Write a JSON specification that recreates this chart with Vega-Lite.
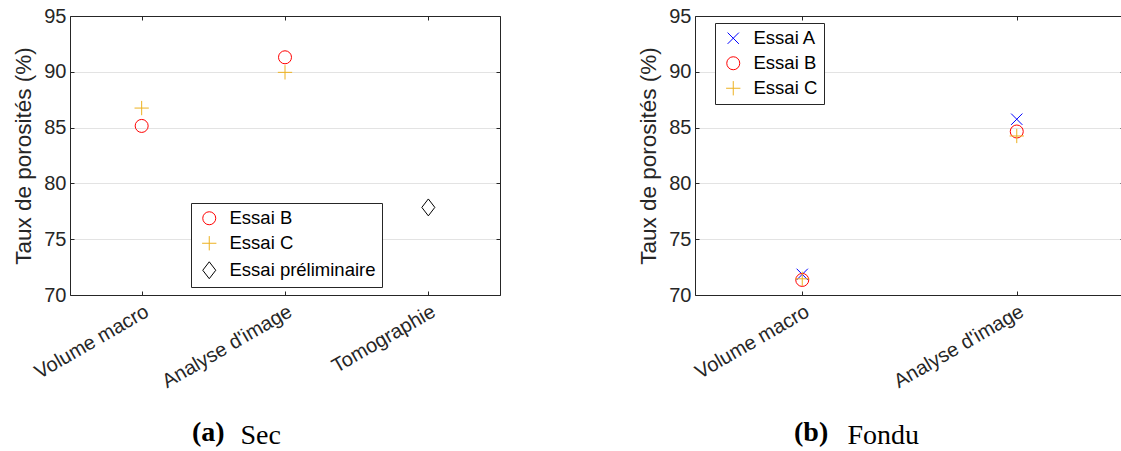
{
  "$schema": "https://vega.github.io/schema/vega-lite/v6.json",
  "padding": {"left": 12, "top": 6, "right": 0, "bottom": 0},
  "background": "white",
  "datasets": {
    "sec": [
      {"methode": "Volume macro", "essai": "Essai B", "taux": 85.15},
      {"methode": "Volume macro", "essai": "Essai C", "taux": 86.75},
      {"methode": "Analyse d'image", "essai": "Essai B", "taux": 91.3},
      {"methode": "Analyse d'image", "essai": "Essai C", "taux": 89.95},
      {"methode": "Tomographie", "essai": "Essai préliminaire", "taux": 77.85}
    ],
    "fondu": [
      {"methode": "Volume macro", "essai": "Essai A", "taux": 71.85},
      {"methode": "Volume macro", "essai": "Essai B", "taux": 71.35},
      {"methode": "Volume macro", "essai": "Essai C", "taux": 71.45},
      {"methode": "Analyse d'image", "essai": "Essai A", "taux": 85.75},
      {"methode": "Analyse d'image", "essai": "Essai B", "taux": 84.65},
      {"methode": "Analyse d'image", "essai": "Essai C", "taux": 84.25}
    ]
  },
  "config": {
    "view": {"stroke": null},
    "axis": {
      "domain": true,
      "domainColor": "#262626",
      "domainWidth": 1,
      "gridColor": "#e3e3e3",
      "gridWidth": 1,
      "tickColor": "#262626",
      "tickSize": -4,
      "labelColor": "#262626",
      "labelFont": "Liberation Sans",
      "labelFontSize": 20,
      "titleFont": "Liberation Sans",
      "titleFontSize": 22.5,
      "titleFontWeight": "normal",
      "titleColor": "#262626"
    },
    "legend": {
      "orient": "none",
      "strokeColor": "#262626",
      "fillColor": "white",
      "padding": 6,
      "labelFont": "Liberation Sans",
      "labelFontSize": 18.5,
      "labelColor": "black",
      "labelOffset": 11,
      "symbolSize": 169,
      "symbolStrokeWidth": 1,
      "symbolOffset": 3,
      "rowPadding": 6,
      "title": null
    },
    "title": {"font": "Liberation Serif", "fontSize": 28, "color": "black"}
  },
  "hconcat": [
    {
      "width": 430,
      "height": 279,
      "data": {"name": "sec"},
      "title": {"text": "(a)", "orient": "bottom", "anchor": "start", "frame": "group", "dx": 122, "offset": -30, "fontWeight": "bold"},
      "layer": [
        {
          "mark": {"type": "point", "filled": false, "strokeWidth": 1, "opacity": 1, "size": 169},
          "encoding": {
            "x": {
              "field": "methode", "type": "nominal",
              "scale": {"type": "point", "domain": ["Volume macro", "Analyse d'image", "Tomographie"], "padding": 0.5},
              "axis": {"labelAngle": -30, "labelPadding": 10, "title": "Sec", "titleFont": "Liberation Serif", "titleFontSize": 28, "titleColor": "black", "titleX": 170, "titleY": 148, "titleAlign": "left", "titleBaseline": "alphabetic"}
            },
            "y": {
              "field": "taux", "type": "quantitative",
              "scale": {"domain": [70, 95], "nice": false, "zero": false},
              "axis": {"values": [70, 75, 80, 85, 90, 95], "labelPadding": 8, "title": "Taux de porosités (%)", "titlePadding": 8}
            },
            "color": {
              "field": "essai", "type": "nominal",
              "scale": {"domain": ["Essai B", "Essai C", "Essai préliminaire"], "range": ["#ff0000", "#edb120", "#000000"]},
              "legend": {"legendX": 121, "legendY": 187}
            },
            "shape": {
              "field": "essai", "type": "nominal",
              "scale": {"domain": ["Essai B", "Essai C", "Essai préliminaire"], "range": ["circle", "M-1.1,0L1.1,0M0,-1.1L0,1.1", "M0,-1.3L1,0L0,1.3L-1,0Z"]},
              "legend": {"legendX": 121, "legendY": 187}
            }
          }
        },
        {
          "mark": {"type": "point", "opacity": 0},
          "encoding": {
            "x": {"field": "methode", "type": "nominal", "axis": {"orient": "top", "labels": false, "title": null, "grid": false, "zindex": 1}},
            "y": {"field": "taux", "type": "quantitative", "axis": {"orient": "right", "values": [70, 75, 80, 85, 90, 95], "labels": false, "title": null, "grid": false, "zindex": 1}}
          }
        }
      ],
      "resolve": {"axis": {"x": "independent", "y": "independent"}}
    },
    {
      "width": 429,
      "height": 279,
      "data": {"name": "fondu"},
      "title": {"text": "(b)", "orient": "bottom", "anchor": "start", "frame": "group", "dx": 99, "offset": -30, "fontWeight": "bold"},
      "layer": [
        {
          "mark": {"type": "point", "filled": false, "strokeWidth": 1, "opacity": 1, "size": 169},
          "encoding": {
            "x": {
              "field": "methode", "type": "nominal",
              "scale": {"type": "point", "domain": ["Volume macro", "Analyse d'image"], "padding": 0.5},
              "axis": {"labelAngle": -30, "labelPadding": 10, "title": "Fondu", "titleFont": "Liberation Serif", "titleFontSize": 28, "titleColor": "black", "titleX": 152, "titleY": 148, "titleAlign": "left", "titleBaseline": "alphabetic"}
            },
            "y": {
              "field": "taux", "type": "quantitative",
              "scale": {"domain": [70, 95], "nice": false, "zero": false},
              "axis": {"values": [70, 75, 80, 85, 90, 95], "labelPadding": 8, "title": "Taux de porosités (%)", "titlePadding": 8}
            },
            "color": {
              "field": "essai", "type": "nominal",
              "scale": {"domain": ["Essai A", "Essai B", "Essai C"], "range": ["#0000ff", "#ff0000", "#edb120"]},
              "legend": {"legendX": 20, "legendY": 7}
            },
            "shape": {
              "field": "essai", "type": "nominal",
              "scale": {"domain": ["Essai A", "Essai B", "Essai C"], "range": ["M-0.87,-0.87L0.87,0.87M0.87,-0.87L-0.87,0.87", "circle", "M-1.1,0L1.1,0M0,-1.1L0,1.1"]},
              "legend": {"legendX": 20, "legendY": 7}
            }
          }
        },
        {
          "mark": {"type": "point", "opacity": 0},
          "encoding": {
            "x": {"field": "methode", "type": "nominal", "axis": {"orient": "top", "labels": false, "title": null, "grid": false, "zindex": 1}},
            "y": {"field": "taux", "type": "quantitative", "axis": {"orient": "right", "values": [70, 75, 80, 85, 90, 95], "labels": false, "title": null, "grid": false, "zindex": 1}}
          }
        }
      ],
      "resolve": {"axis": {"x": "independent", "y": "independent"}}
    }
  ],
  "spacing": 136,
  "resolve": {"scale": {"color": "independent", "shape": "independent"}, "legend": {"color": "independent", "shape": "independent"}}
}
